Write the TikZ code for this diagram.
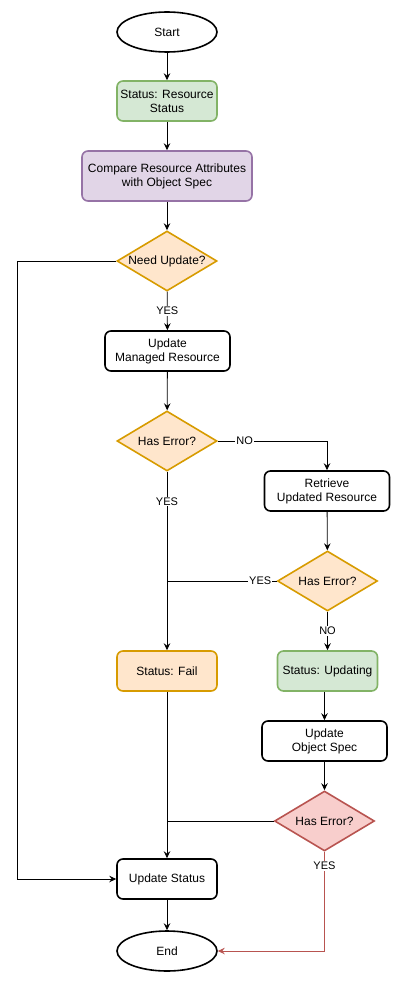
\documentclass[tikz,border=0pt]{standalone}
\usepackage{fontspec}
\setmainfont{Liberation Sans}
\usetikzlibrary{shapes.geometric,arrows.meta}
\definecolor{gfill}{HTML}{D5E8D4}
\definecolor{gline}{HTML}{82B366}
\definecolor{pfill}{HTML}{E1D5E7}
\definecolor{pline}{HTML}{9673A6}
\definecolor{ofill}{HTML}{FFE6CC}
\definecolor{oline}{HTML}{D79B00}
\definecolor{rfill}{HTML}{F8CECC}
\definecolor{rline}{HTML}{B85450}
\tikzset{
  base/.style={line width=1.6pt, inner sep=0pt, align=center, font=\fontsize{12}{14}\selectfont},
  term/.style={base, ellipse, draw=black, fill=white, minimum width=100pt, minimum height=40pt},
  proc/.style={base, rectangle, rounded corners=6pt, draw=black, fill=white, minimum width=125pt, minimum height=40pt},
  greenbox/.style={proc, draw=gline, fill=gfill, minimum width=100pt},
  purplebox/.style={proc, draw=pline, fill=pfill, minimum width=170pt, minimum height=50pt},
  orangebox/.style={proc, draw=oline, fill=ofill, minimum width=100pt},
  dec/.style={base, diamond, draw=oline, fill=ofill, minimum width=100pt, minimum height=60pt},
  reddec/.style={dec, draw=rline, fill=rfill},
  conn/.style={line width=0.8pt, draw=black},
  arr/.style={conn, -{Stealth[length=7pt,width=6.5pt,inset=2.5pt]}},
  redarr/.style={line width=0.8pt, draw=rline, -{Stealth[length=7pt,width=6.5pt,inset=2.5pt]}},
  lbl/.style={fill=white, inner sep=1pt, text=black, font=\fontsize{11}{13}\selectfont}
}
\begin{document}
\begin{tikzpicture}[x=1pt,y=-1pt]
\useasboundingbox (0,0) rectangle (401,982);
\node[term] (start) at (167,32) {Start};
\node[greenbox] (st1) at (167,101) {Status: Resource\\Status};
\node[purplebox] (cmp) at (167,176) {Compare Resource Attributes\\with Object Spec};
\node[dec] (need) at (167,261) {\makebox[0pt]{Need Update?}};
\node[proc] (upd) at (167.5,351) {Update\\Managed Resource};
\node[dec] (he1) at (167,441) {\makebox[0pt]{Has Error?}};
\node[proc] (ret) at (327,491) {Retrieve\\Updated Resource};
\node[dec] (he2) at (327.5,581) {\makebox[0pt]{Has Error?}};
\node[orangebox] (fail) at (167,671) {Status: Fail};
\node[greenbox] (upding) at (327.5,671) {Status: Updating};
\node[proc] (spec) at (324.5,741) {Update\\Object Spec};
\node[reddec] (he3) at (324.5,821) {\makebox[0pt]{Has Error?}};
\node[proc, minimum width=100pt] (us) at (167,879) {Update Status};
\node[term] (end) at (167,951) {End};
\coordinate (lx) at (17,261);

\draw[arr] (start) -- (st1);
\draw[arr] (st1) -- (cmp);
\draw[arr] (cmp) -- (need);
\draw[arr] (need) -- node[lbl]{YES} (upd);
\draw[arr] (need.west) -- (lx) |- (us.west);
\draw[arr] (upd) -- (he1);
\draw[arr] (he1.east) -| node[lbl, pos=0.123]{NO} (ret.north);
\draw[arr] (he1.south) -- node[lbl, pos=0.167]{YES} (fail.north);
\draw[arr] (ret) -- (he2);
\draw[conn] (he2.west) -- node[lbl, pos=0.15]{YES} (he2.west -| fail.north);
\draw[arr] (he2.south) -- node[lbl]{NO} (upding.north);
\draw[arr] (upding.south -| spec.north) -- (spec.north);
\draw[arr] (spec) -- (he3);
\draw[conn] (he3.west) -- (he3.west -| fail.north);
\draw[arr] (fail) -- (us);
\draw[arr] (us) -- (end);
\draw[redarr] (he3.south) |- node[lbl, pos=0.07]{YES} (end.east);
\end{tikzpicture}
\end{document}
